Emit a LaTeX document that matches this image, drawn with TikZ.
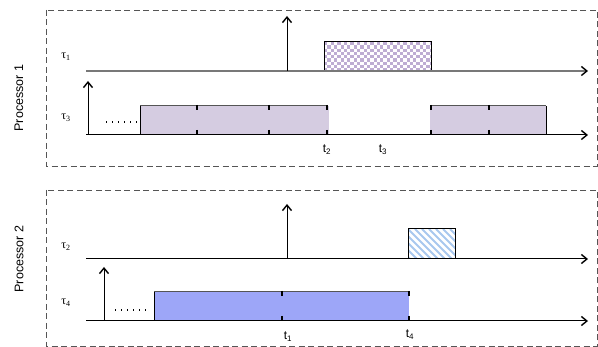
\documentclass[tikz,border=0pt]{standalone}
\usepackage{fontspec}
\setmainfont{Liberation Sans}
\newfontfamily\serifgr{Liberation Serif}
\usetikzlibrary{arrows.meta}
\definecolor{lav}{HTML}{D5CCE1}
\definecolor{chk}{HTML}{BEADD3}
\definecolor{blu}{HTML}{9DA6F8}
\definecolor{hat}{HTML}{A9C8EE}
\definecolor{frm}{HTML}{555555}
\begin{document}
\begin{tikzpicture}[x=1pt,y=-1pt,line width=1pt,
  axis/.style={-{Straight Barb[length=5.5pt,width=9pt,line width=1.4pt,color=black]}},
  rel/.style={-{Straight Barb[length=5.5pt,width=9pt,line width=1.4pt]}},
  panel/.style={draw=frm,dash pattern=on 6pt off 3.5pt,line width=0.9pt},
  tasklbl/.style={font=\serifgr\fontsize{12}{13}\selectfont,inner sep=0pt},
  tlbl/.style={font=\fontsize{12}{13}\selectfont,inner sep=0pt},
  proclbl/.style={font=\fontsize{12.5}{14}\selectfont,rotate=90,inner sep=0pt},
  topline/.style={draw=frm},
  tick/.style={draw=black,line width=1.1pt},
  dots/.style={dash pattern=on 1.3pt off 4.7pt,line width=1.1pt}]
\useasboundingbox (0,0) rectangle (598,347);
% panels
\draw[panel] (46,10) rectangle (597,166);
\draw[panel] (46,190) rectangle (597,346);
\node[proclbl] (p1) at (19,98) {Processor 1};
\node[proclbl] (p2) at (19,259) {Processor 2};
% ---------- Processor 1 ----------
\begin{scope}
\clip (324,42) rectangle (431,71);
\foreach \i in {0,...,33}{\foreach \j in {0,...,9}{
  \pgfmathtruncatemacro\pp{mod(\i+\j,2)}
  \ifnum\pp=0 \fill[chk] (324+\i*3.3,42+\j*3.3) rectangle ++(3.3,3.3);\fi}}
\end{scope}
\draw (324,71) -- (324,42) -- (431,42) -- (431,71);
\fill[lav] (140,106) rectangle (329,135);
\fill[lav] (430,106) rectangle (546,135);
\draw[topline] (140,106) -- (327,106);
\draw[topline] (431,106) -- (546,106);
\draw (140,106) -- (140,135);
\draw (546,106) -- (546,135);
\foreach \x in {197,269,327,431,489}{
  \draw[tick] (\x,105) -- (\x,110);
  \draw[tick] (\x,130) -- (\x,135);}
\coordinate (a1s) at (86,71); \coordinate (a1e) at (588,71);
\coordinate (a3s) at (86,135); \coordinate (a3e) at (588,135);
\draw[axis,draw={rgb,255:red,120;green,120;blue,120},line width=1.5pt] (a1s) -- (a1e);
\draw[axis] (a3s) -- (a3e);
\coordinate (r1b) at (287,71); \coordinate (r1t) at (287,16);
\draw[rel] (r1b) -- (r1t);
\coordinate (r3b) at (88,135); \coordinate (r3t) at (88,81);
\draw[rel] (r3b) -- (r3t);
\coordinate (d3s) at (106,122); \coordinate (d3e) at (137,122);
\draw[dots] (d3s) -- (d3e);
\node[tasklbl] (tau1) at (66,57) {τ\textsubscript{1}};
\node[tasklbl] (tau3) at (66,118) {τ\textsubscript{3}};
\node[tlbl] (t2) at (327,150) {t\textsubscript{2}};
\node[tlbl] (t3) at (383,150) {t\textsubscript{3}};
% ---------- Processor 2 ----------
\begin{scope}
\clip (408,229) rectangle (455,259);
\foreach \k in {-42,-35,...,56}{\draw[hat,line width=2pt] (408+\k,229) -- ++(32,32);}
\end{scope}
\draw (408,259) -- (408,229) -- (455,229) -- (455,259);
\fill[blu] (154,292) rectangle (409,321);
\draw[topline] (154,292) -- (409,292);
\draw (154,292) -- (154,321);
\foreach \x in {282,409}{
  \draw[tick] (\x,291) -- (\x,296);
  \draw[tick] (\x,316) -- (\x,321);}
\coordinate (a2s) at (86,259); \coordinate (a2e) at (588,259);
\coordinate (a4s) at (86,321); \coordinate (a4e) at (588,321);
\draw[axis] (a2s) -- (a2e);
\draw[axis] (a4s) -- (a4e);
\coordinate (r2b) at (287,259); \coordinate (r2t) at (287,204);
\draw[rel] (r2b) -- (r2t);
\coordinate (r4b) at (104,321); \coordinate (r4t) at (104,267);
\draw[rel] (r4b) -- (r4t);
\coordinate (d4s) at (115,310); \coordinate (d4e) at (146,310);
\draw[dots] (d4s) -- (d4e);
\node[tasklbl] (tau2) at (66,247) {τ\textsubscript{2}};
\node[tasklbl] (tau4) at (66,303) {τ\textsubscript{4}};
\node[tlbl] (t1) at (288,337) {t\textsubscript{1}};
\node[tlbl] (t4) at (410,335) {t\textsubscript{4}};
\end{tikzpicture}
\end{document}
